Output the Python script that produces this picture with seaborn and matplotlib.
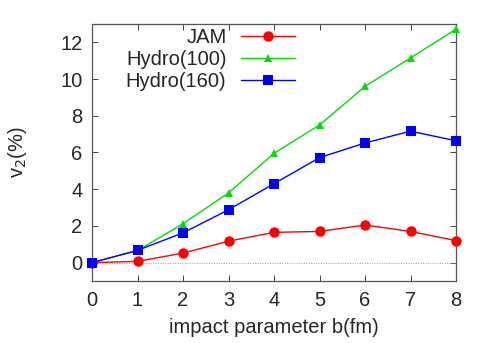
import matplotlib
matplotlib.use("Agg")
import matplotlib.pyplot as plt
import seaborn as sns
import pandas as pd

# data
b = [0, 1, 2, 3, 4, 5, 6, 7, 8]
jam = [0, 0.07, 0.52, 1.17, 1.65, 1.7, 2.05, 1.7, 1.2]
hydro100 = [0, 0.66, 2.12, 3.8, 5.95, 7.5, 9.6, 11.15, 12.72]
hydro160 = [0, 0.67, 1.62, 2.88, 4.3, 5.72, 6.52, 7.16, 6.64]

labels = ["JAM", "Hydro(100)", "Hydro(160)"]
colors = ["#ff0000", "#00dd00", "#0000ff"]
markers = ["o", "^", "s"]
sizes = [7.5, 6, 7]

df = pd.DataFrame({"b": b, "JAM": jam, "Hydro(100)": hydro100, "Hydro(160)": hydro160})

sns.set_style("ticks")
plt.rcParams["font.family"] = ["Liberation Sans", "DejaVu Sans"]

fig = plt.figure(figsize=(4.91, 3.43), dpi=100)
ax = fig.add_axes([92/491, 1-281/343, (456-92)/491, (281-24)/343])

ax.axhline(0, color="#999999", lw=0.7, ls=(0, (1, 1.5)), zorder=1)

for lab, c, m, s in zip(labels, colors, markers, sizes):
    sns.lineplot(data=df, x="b", y=lab, ax=ax, color=c, marker=m, markersize=s,
                 markeredgewidth=0, lw=1, label=lab, zorder=3, clip_on=False)

ax.set_xlim(0, 8)
ax.set_ylim(-1, 13)
ax.set_xticks(range(0, 9))
ax.set_yticks(range(0, 13, 2))
ax.tick_params(direction="in", top=True, right=True, labelsize=14.5, length=4,
               width=0.7, color="#444444", pad=7)
for sp in ax.spines.values():
    sp.set_linewidth(0.9)
    sp.set_color("#555555")

ax.set_xlabel("impact parameter b(fm)", fontsize=14.5, labelpad=6)
ax.set_ylabel("v$_2$(%)", fontsize=14.5, labelpad=22)

leg = ax.legend(loc="upper left", bbox_to_anchor=(0.093, 0.985), frameon=False,
                markerfirst=False, fontsize=14.5, handlelength=2.7,
                labelspacing=0.15, borderaxespad=0, borderpad=0, handletextpad=0.7)
for t in leg.get_texts():
    t.set_ha("right")

fig.savefig("out.png", dpi=100)
